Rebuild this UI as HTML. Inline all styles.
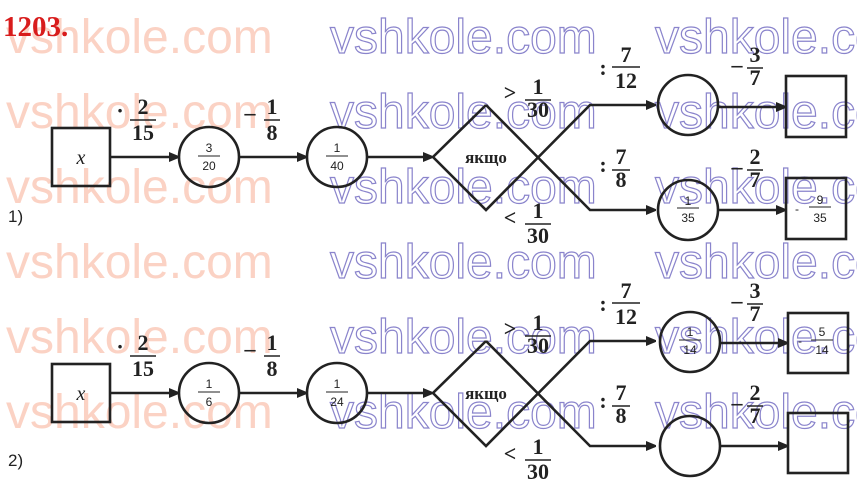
<!DOCTYPE html>
<html><head><meta charset="utf-8"><style>
html,body{margin:0;padding:0;background:#fff;width:857px;height:481px;overflow:hidden}
svg{display:block}
.wm{font-family:"Liberation Sans",sans-serif;font-size:48px;}
.o{fill:#fbd2c4}
.s{fill:none;stroke:#8a84cc;stroke-width:1.2}
.f{font-family:"Liberation Serif",serif;font-size:22px;font-weight:bold;fill:#222;text-anchor:middle}
.sm{font-family:"Liberation Sans",sans-serif;font-size:12px;fill:#222;text-anchor:middle}
.ln{stroke:#222;stroke-width:2.6;fill:none}
</style></head><body>
<svg width="857" height="481" viewBox="0 0 857 481">
<defs><marker id="a" markerWidth="10" markerHeight="10" refX="9" refY="5" orient="auto" markerUnits="userSpaceOnUse"><path d="M0,0 L12,5 L0,10 z" fill="#222"/></marker></defs>
<g class="wm">
<text class="o" x="6" y="53">vshkole.com</text><text class="o" x="6" y="128">vshkole.com</text><text class="o" x="6" y="203">vshkole.com</text><text class="o" x="6" y="278">vshkole.com</text><text class="o" x="6" y="353">vshkole.com</text><text class="o" x="6" y="428">vshkole.com</text>
<text class="s" x="330" y="53">vshkole.com</text><text class="s" x="330" y="128">vshkole.com</text><text class="s" x="330" y="203">vshkole.com</text><text class="s" x="330" y="278">vshkole.com</text><text class="s" x="330" y="353">vshkole.com</text><text class="s" x="330" y="428">vshkole.com</text>
<text class="s" x="655" y="53">vshkole.com</text><text class="s" x="655" y="128">vshkole.com</text><text class="s" x="655" y="203">vshkole.com</text><text class="s" x="655" y="278">vshkole.com</text><text class="s" x="655" y="353">vshkole.com</text><text class="s" x="655" y="428">vshkole.com</text>
</g>
<text x="3" y="36" font-family="Liberation Serif,serif" font-size="29" font-weight="bold" fill="#d81c1c">1203.</text>
<text x="8" y="222" font-family="Liberation Sans,sans-serif" font-size="17" fill="#222">1)</text>
<text x="8" y="466" font-family="Liberation Sans,sans-serif" font-size="17" fill="#222">2)</text>

<!-- row 1 -->
<g>
<rect x="52" y="128" width="58" height="58" class="ln"/>
<text x="81" y="164" font-family="Liberation Serif,serif" font-style="italic" font-size="20" text-anchor="middle" fill="#222">x</text>
<line x1="110" y1="157" x2="178" y2="157" class="ln" marker-end="url(#a)"/>
<circle cx="209" cy="157" r="30" class="ln"/>
<line x1="239" y1="157" x2="306" y2="157" class="ln" marker-end="url(#a)"/>
<circle cx="337" cy="157" r="30" class="ln"/>
<line x1="367" y1="157" x2="432" y2="157" class="ln" marker-end="url(#a)"/>
<path d="M486,105 L433,157 L486,210 L590,105 L655,105" class="ln" marker-end="url(#a)"/>
<path d="M486,105 L590,210 L655,210" class="ln" marker-end="url(#a)"/>
<text x="486" y="163" font-family="Liberation Serif,serif" font-size="17" font-weight="bold" text-anchor="middle" fill="#222">якщо</text>
<circle cx="688" cy="105" r="30" class="ln"/>
<line x1="718" y1="107" x2="785" y2="107" class="ln" marker-end="url(#a)"/>
<rect x="786" y="76" width="60" height="61" class="ln"/>
<circle cx="688" cy="210" r="30" class="ln"/>
<line x1="718" y1="210" x2="785" y2="210" class="ln" marker-end="url(#a)"/>
<rect x="786" y="178" width="60" height="61" class="ln"/>
<text class="f" x="120" y="118">·</text><text class="f" x="143" y="114">2</text><line x1="130" y1="120" x2="156" y2="120" stroke="#222" stroke-width="1.5"/><text class="f" x="143" y="140">15</text>
<text class="f" x="250" y="120">–</text><text class="f" x="272" y="114">1</text><line x1="264" y1="120" x2="280" y2="120" stroke="#222" stroke-width="1.5"/><text class="f" x="272" y="140">8</text>
<text class="sm" x="209" y="152">3</text><line x1="198" y1="156" x2="220" y2="156" stroke="#222"/><text class="sm" x="209" y="170">20</text>
<text class="sm" x="337" y="152">1</text><line x1="326" y1="156" x2="348" y2="156" stroke="#222"/><text class="sm" x="337" y="170">40</text>
<text class="f" x="510" y="100" font-weight="normal">&gt;</text><text class="f" x="538" y="94">1</text><line x1="525" y1="100" x2="551" y2="100" stroke="#222" stroke-width="1.5"/><text class="f" x="538" y="117">30</text>
<text class="f" x="510" y="225" font-weight="normal">&lt;</text><text class="f" x="538" y="218">1</text><line x1="525" y1="224" x2="551" y2="224" stroke="#222" stroke-width="1.5"/><text class="f" x="538" y="243">30</text>
<text class="f" x="603" y="75">:</text><text class="f" x="626" y="62">7</text><line x1="612" y1="67" x2="640" y2="67" stroke="#222" stroke-width="1.5"/><text class="f" x="626" y="88">12</text>
<text class="f" x="603" y="172">:</text><text class="f" x="621" y="164">7</text><line x1="612" y1="170" x2="630" y2="170" stroke="#222" stroke-width="1.5"/><text class="f" x="621" y="187">8</text>
<text class="f" x="737" y="72">–</text><text class="f" x="755" y="62">3</text><line x1="747" y1="68" x2="763" y2="68" stroke="#222" stroke-width="1.5"/><text class="f" x="755" y="85">7</text>
<text class="f" x="737" y="174">–</text><text class="f" x="755" y="164">2</text><line x1="747" y1="170" x2="763" y2="170" stroke="#222" stroke-width="1.5"/><text class="f" x="755" y="187">7</text>
<text class="sm" x="688" y="205">1</text><line x1="677" y1="208" x2="699" y2="208" stroke="#222"/><text class="sm" x="688" y="222">35</text>
<text class="sm" x="797" y="213">-</text><text class="sm" x="820" y="204">9</text><line x1="809" y1="207" x2="831" y2="207" stroke="#222"/><text class="sm" x="820" y="222">35</text>
</g>

<!-- row 2 -->
<g transform="translate(0,236)">
<rect x="52" y="128" width="58" height="58" class="ln"/>
<text x="81" y="164" font-family="Liberation Serif,serif" font-style="italic" font-size="20" text-anchor="middle" fill="#222">x</text>
<line x1="110" y1="157" x2="178" y2="157" class="ln" marker-end="url(#a)"/>
<circle cx="209" cy="157" r="30" class="ln"/>
<line x1="239" y1="157" x2="306" y2="157" class="ln" marker-end="url(#a)"/>
<circle cx="337" cy="157" r="30" class="ln"/>
<line x1="367" y1="157" x2="432" y2="157" class="ln" marker-end="url(#a)"/>
<path d="M486,105 L433,157 L486,210 L590,105 L655,105" class="ln" marker-end="url(#a)"/>
<path d="M486,105 L590,210 L655,210" class="ln" marker-end="url(#a)"/>
<text x="486" y="163" font-family="Liberation Serif,serif" font-size="17" font-weight="bold" text-anchor="middle" fill="#222">якщо</text>
<circle cx="690" cy="106" r="30" class="ln"/>
<line x1="720" y1="107" x2="787" y2="107" class="ln" marker-end="url(#a)"/>
<rect x="788" y="77" width="60" height="60" class="ln"/>
<circle cx="690" cy="210" r="30" class="ln"/>
<line x1="720" y1="210" x2="787" y2="210" class="ln" marker-end="url(#a)"/>
<rect x="788" y="177" width="60" height="60" class="ln"/>
<text class="f" x="120" y="118">·</text><text class="f" x="143" y="114">2</text><line x1="130" y1="120" x2="156" y2="120" stroke="#222" stroke-width="1.5"/><text class="f" x="143" y="140">15</text>
<text class="f" x="250" y="120">–</text><text class="f" x="272" y="114">1</text><line x1="264" y1="120" x2="280" y2="120" stroke="#222" stroke-width="1.5"/><text class="f" x="272" y="140">8</text>
<text class="sm" x="209" y="152">1</text><line x1="198" y1="156" x2="220" y2="156" stroke="#222"/><text class="sm" x="209" y="170">6</text>
<text class="sm" x="337" y="152">1</text><line x1="326" y1="156" x2="348" y2="156" stroke="#222"/><text class="sm" x="337" y="170">24</text>
<text class="f" x="510" y="100" font-weight="normal">&gt;</text><text class="f" x="538" y="94">1</text><line x1="525" y1="100" x2="551" y2="100" stroke="#222" stroke-width="1.5"/><text class="f" x="538" y="117">30</text>
<text class="f" x="510" y="225" font-weight="normal">&lt;</text><text class="f" x="538" y="218">1</text><line x1="525" y1="224" x2="551" y2="224" stroke="#222" stroke-width="1.5"/><text class="f" x="538" y="243">30</text>
<text class="f" x="603" y="75">:</text><text class="f" x="626" y="62">7</text><line x1="612" y1="67" x2="640" y2="67" stroke="#222" stroke-width="1.5"/><text class="f" x="626" y="88">12</text>
<text class="f" x="603" y="172">:</text><text class="f" x="621" y="164">7</text><line x1="612" y1="170" x2="630" y2="170" stroke="#222" stroke-width="1.5"/><text class="f" x="621" y="187">8</text>
<text class="f" x="737" y="72">–</text><text class="f" x="755" y="62">3</text><line x1="747" y1="68" x2="763" y2="68" stroke="#222" stroke-width="1.5"/><text class="f" x="755" y="85">7</text>
<text class="f" x="737" y="174">–</text><text class="f" x="755" y="164">2</text><line x1="747" y1="170" x2="763" y2="170" stroke="#222" stroke-width="1.5"/><text class="f" x="755" y="187">7</text>
<text class="sm" x="690" y="100">1</text><line x1="679" y1="104" x2="701" y2="104" stroke="#222"/><text class="sm" x="690" y="118">14</text>
<text class="sm" x="800" y="109">-</text><text class="sm" x="822" y="100">5</text><line x1="811" y1="104" x2="833" y2="104" stroke="#222"/><text class="sm" x="822" y="118">14</text>
</g>
</svg>
</body></html>
